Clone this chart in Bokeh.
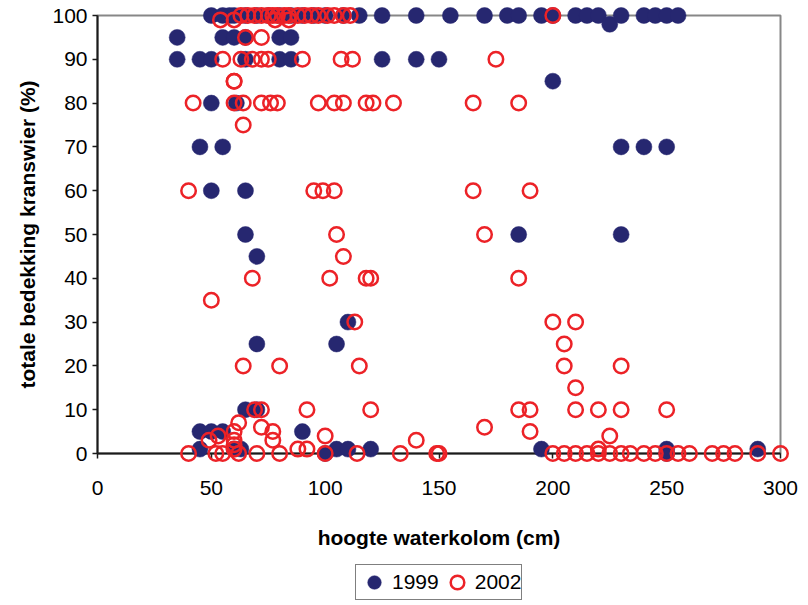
from bokeh.plotting import figure
from bokeh.layouts import column
from bokeh.models import Range1d, FixedTicker, Legend, LegendItem
from bokeh.embed import file_html
from bokeh.resources import INLINE

# 1999 survey: water column height (cm) and total stonewort cover (%)
x99 = [50, 55, 58, 60, 65, 70, 75, 80, 85, 90, 95, 100, 108, 115, 125, 140, 155, 170, 180, 185,
       195, 200, 210, 215, 220, 225, 230, 240, 245, 250, 255,
       35, 55, 60, 65, 80, 85,
       35, 45, 50, 65, 80, 85, 125, 140, 150,
       200,
       50, 61,
       45, 55, 230, 240, 250,
       50, 65,
       65, 185, 230,
       70,
       110,
       70, 105,
       65, 70,
       45, 50, 55, 90,
       45, 60, 63, 105, 110, 120, 195, 250, 290,
       100, 250]
y99 = [100] * 25 + [98] + [100] * 5 + \
      [95] * 6 + \
      [90] * 9 + \
      [85] + \
      [80] * 2 + \
      [70] * 5 + \
      [60] * 2 + \
      [50] * 3 + \
      [45] + \
      [30] + \
      [25] * 2 + \
      [10] * 2 + \
      [5] * 4 + \
      [1] * 9 + \
      [0] * 2

# 2002 survey
x02 = [63, 66, 69, 72, 75, 77, 79, 82, 84, 88, 91, 94, 97, 101, 104, 108, 111, 200,
       54, 60, 78, 84,
       65, 72,
       55, 63, 68, 72, 75, 90, 107, 112, 175,
       60, 60,
       42, 60, 64, 72, 76, 79, 97, 104, 108, 118, 121, 130, 165, 185,
       64,
       40, 95, 99, 104, 165, 190,
       105, 170,
       108,
       68, 102, 118, 120, 185,
       50,
       113, 200, 210,
       205,
       64, 80, 115, 205, 230,
       210,
       69, 72, 92, 120, 185, 190, 210, 220, 230, 250,
       62,
       72, 170,
       60, 77, 190,
       53, 100, 225,
       49, 60, 77, 140,
       60,
       60, 88, 92, 220,
       40, 52, 55, 62, 70, 80, 100, 114, 133, 149, 150, 200, 205, 210, 215, 220, 225,
       230, 234, 240, 245, 250, 255, 260, 270, 275, 280, 290, 300]
y02 = [100] * 18 + \
      [99] * 4 + \
      [95] * 2 + \
      [90] * 9 + \
      [85] * 2 + \
      [80] * 14 + \
      [75] + \
      [60] * 6 + \
      [50] * 2 + \
      [45] + \
      [40] * 5 + \
      [35] + \
      [30] * 3 + \
      [25] + \
      [20] * 5 + \
      [15] + \
      [10] * 10 + \
      [7] + \
      [6] * 2 + \
      [5] * 3 + \
      [4] * 3 + \
      [3] * 4 + \
      [2] + \
      [1] * 4 + \
      [0] * 29

x_ticks = [0, 50, 100, 150, 200, 250, 300]
y_ticks = [0, 10, 20, 30, 40, 50, 60, 70, 80, 90, 100]
series_names = ["1999", "2002"]

NAVY = "#262770"
RED = "#EC2227"
FONT = "Liberation Sans"

STYLE_99 = dict(size=16, marker="circle", fill_color=NAVY, line_color=NAVY, line_width=0.5)
STYLE_02 = dict(size=14.5, marker="circle", fill_color=None, line_color=RED, line_width=2.5)

p = figure(width=808, height=560, output_backend="svg", toolbar_location=None,
           x_range=Range1d(0, 300), y_range=Range1d(0, 100),
           min_border_left=97, min_border_right=28, min_border_top=15, min_border_bottom=107,
           background_fill_color="white", border_fill_color="white")

p.xgrid.visible = False
p.ygrid.visible = False
p.outline_line_color = "#878787"
p.outline_line_width = 2

for ax in (p.xaxis[0], p.yaxis[0]):
    ax.axis_line_color = "#1a1a1a"
    ax.axis_line_width = 2
    ax.major_tick_line_color = "#1a1a1a"
    ax.major_tick_line_width = 1.5
    ax.major_tick_out = 5
    ax.major_tick_in = 0
    ax.minor_tick_line_color = None
    ax.major_label_text_font = FONT
    ax.major_label_text_font_size = "21px"
    ax.major_label_text_color = "black"
    ax.axis_label_text_font = FONT
    ax.axis_label_text_font_size = "21px"
    ax.axis_label_text_font_style = "bold"
    ax.axis_label_text_color = "black"

p.xaxis.ticker = FixedTicker(ticks=x_ticks)
p.yaxis.ticker = FixedTicker(ticks=y_ticks)
p.xaxis.axis_label = "hoogte waterkolom (cm)"
p.yaxis.axis_label = "totale bedekking kranswier (%)"
p.xaxis.major_label_standoff = 22
p.xaxis.axis_label_standoff = 28
p.yaxis.major_label_standoff = 5
p.yaxis.axis_label_standoff = 10

r99 = p.scatter(x99, y99, **STYLE_99)
r02 = p.scatter(x02, y02, **STYLE_02)
# markers sit on the frame edges, so draw them unclipped
r99.level = "overlay"
r02.level = "overlay"

# legend strip underneath the chart; its ranges keep the series out of view,
# so only the legend keys are drawn
leg = figure(width=808, height=45, output_backend="svg", toolbar_location=None,
             x_range=Range1d(-2, -1), y_range=Range1d(-2, -1),
             min_border_left=97, min_border_right=28, min_border_top=0, min_border_bottom=0,
             background_fill_color="white", border_fill_color="white")
leg.axis.visible = False
leg.grid.visible = False
leg.outline_line_color = None
k99 = leg.scatter(x99, y99, **STYLE_99)
k02 = leg.scatter(x02, y02, **STYLE_02)

legend = Legend(items=[LegendItem(label=series_names[0], renderers=[k99]),
                       LegendItem(label=series_names[1], renderers=[k02])],
                orientation="horizontal", location=(258, 5),
                border_line_color="black", border_line_width=1,
                background_fill_color="white", background_fill_alpha=1,
                padding=0, margin=0, spacing=0,
                glyph_width=36, glyph_height=34, label_standoff=0,
                label_text_font=FONT, label_text_font_size="21px", label_text_color="black")
leg.add_layout(legend)

layout = column(p, leg, spacing=0)
open("out.html", "w").write(file_html(layout, INLINE))
